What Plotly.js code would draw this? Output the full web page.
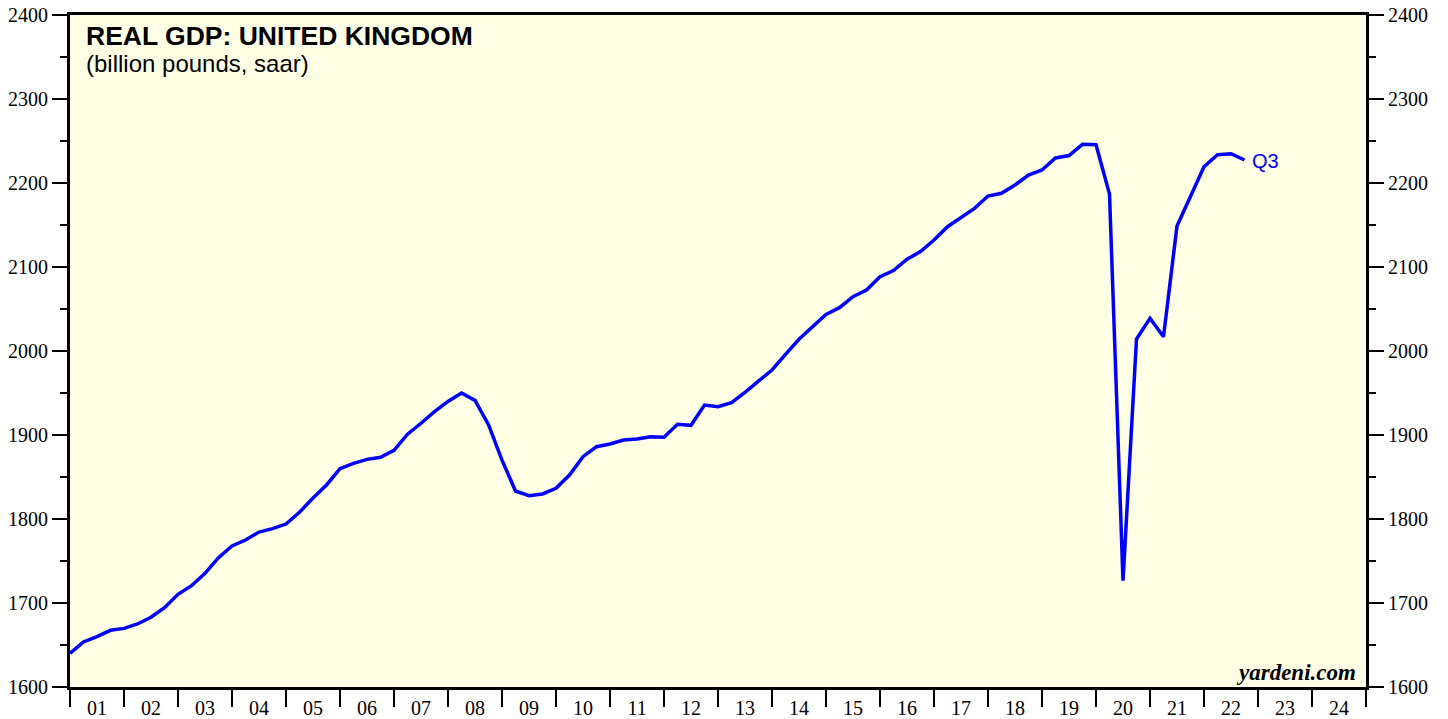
<!DOCTYPE html>
<html>
<head>
<meta charset="utf-8">
<script src="https://cdn.plot.ly/plotly-3.0.1.min.js"></script>
<style>html,body{margin:0;padding:0;background:#fff;}#chart{width:1448px;height:719px;}</style>
</head>
<body>
<div id="chart"></div>
<script>
// Quarter labels (plotted at quarter end)
const quarters = [
 "2000Q4",
 "2001Q1","2001Q2","2001Q3","2001Q4",
 "2002Q1","2002Q2","2002Q3","2002Q4",
 "2003Q1","2003Q2","2003Q3","2003Q4",
 "2004Q1","2004Q2","2004Q3","2004Q4",
 "2005Q1","2005Q2","2005Q3","2005Q4",
 "2006Q1","2006Q2","2006Q3","2006Q4",
 "2007Q1","2007Q2","2007Q3","2007Q4",
 "2008Q1","2008Q2","2008Q3","2008Q4",
 "2009Q1","2009Q2","2009Q3","2009Q4",
 "2010Q1","2010Q2","2010Q3","2010Q4",
 "2011Q1","2011Q2","2011Q3","2011Q4",
 "2012Q1","2012Q2","2012Q3","2012Q4",
 "2013Q1","2013Q2","2013Q3","2013Q4",
 "2014Q1","2014Q2","2014Q3","2014Q4",
 "2015Q1","2015Q2","2015Q3","2015Q4",
 "2016Q1","2016Q2","2016Q3","2016Q4",
 "2017Q1","2017Q2","2017Q3","2017Q4",
 "2018Q1","2018Q2","2018Q3","2018Q4",
 "2019Q1","2019Q2","2019Q3","2019Q4",
 "2020Q1","2020Q2","2020Q3","2020Q4",
 "2021Q1","2021Q2","2021Q3","2021Q4",
 "2022Q1","2022Q2","2022Q3"
];
// Real GDP, billion pounds, saar
const gdp = [
 1640,
 1653.6,1659.9,1667.5,1669.8,
 1675,1683,1694.4,1710.3,
 1720.6,1735.3,1754,1767.9,
 1775,1784.5,1788.5,1794,
 1808,1825,1840.5,1860,
 1866.3,1871,1873.4,1881.8,
 1901,1914,1927.8,1940,
 1950,1941.2,1912.3,1870,
 1833.3,1827.8,1829.8,1836.5,
 1852.4,1874.2,1886.1,1889.3,
 1894,1895.2,1898,1897.3,
 1912.7,1911.5,1935.7,1933.7,
 1938.4,1950.8,1964.3,1977.4,
 1996,2013.9,2028.9,2043.6,
 2051.6,2064.7,2072.6,2088.5,
 2095.7,2109.2,2118.3,2132.1,
 2148,2159.1,2169.8,2184.5,
 2187.7,2197.6,2209.5,2215.5,
 2229.8,2232.7,2246,2245.6,
 2187,1726.6,2014.3,2038.9,
 2017,2148.8,2183.7,2219.4,
 2233.7,2234.9,2227.4
];
const yearStarts = [2001,2002,2003,2004,2005,2006,2007,2008,2009,2010,2011,2012,2013,2014,2015,2016,2017,2018,2019,2020,2021,2022,2023,2024,2025];
const yearLabels = ["01","02","03","04","05","06","07","08","09","10","11","12","13","14","15","16","17","18","19","20","21","22","23","24"];
const yTicks = [1600,1700,1800,1900,2000,2100,2200,2300,2400];
const lastLabel = "Q3";
const titleText = "REAL GDP: UNITED KINGDOM";
const subtitleText = "(billion pounds, saar)";
const sourceText = "yardeni.com";

const xs = quarters.map(q => parseInt(q.slice(0,4)) + parseInt(q.slice(5))/4);
const labelPos = yearLabels.map((l,i) => yearStarts[i] + 0.5);
const xRange = [yearStarts[0], yearStarts[yearStarts.length-1]];
const yRange = [yTicks[0], yTicks[yTicks.length-1]];

const serif = "Liberation Serif, Times New Roman, serif";
const sans = "Liberation Sans, Arial, sans-serif";

const traces = [
 {x: xs, y: gdp, type: 'scatter', mode: 'lines', line: {color: '#0000FF', width: 3.5}, hoverinfo: 'skip', xaxis: 'x', yaxis: 'y'},
 {x: [], y: [], type: 'scatter', mode: 'lines', xaxis: 'x2', yaxis: 'y2', showlegend: false}
];

const yCommon = {
 range: yRange, tickvals: yTicks, ticks: 'outside', ticklen: 15, tickwidth: 2, tickcolor: '#000',
 showgrid: false, zeroline: false, showline: true, linecolor: '#000', linewidth: 3,
 tickfont: {family: serif, size: 20, color: '#000'},
 minor: {dtick: 50, ticks: 'outside', ticklen: 7, tickwidth: 2, tickcolor: '#000', showgrid: false},
 fixedrange: true
};

const layout = {
 width: 1448, height: 719,
 margin: {l: 70, r: 82, t: 15, b: 32},
 paper_bgcolor: '#ffffff',
 plot_bgcolor: '#FFFFE5',
 showlegend: false,
 title: {text: '<b>' + titleText + '</b>', x: 86/1448, xanchor: 'left', xref: 'container', y: 1 - 36/719, yanchor: 'middle', yref: 'container',
   font: {family: sans, size: 26.5, color: '#000'}},
 xaxis: {
  range: xRange, tickvals: yearStarts, ticktext: yearStarts.map(() => ''), ticks: 'outside', ticklen: 17, tickwidth: 2, tickcolor: '#000',
  showgrid: false, zeroline: false, showline: true, linecolor: '#000', linewidth: 3, mirror: true, fixedrange: true
 },
 xaxis2: {
  range: xRange, overlaying: 'x', anchor: 'y', side: 'bottom', tickvals: labelPos, ticktext: yearLabels,
  ticks: 'outside', ticklen: 3, tickcolor: 'rgba(0,0,0,0)', showgrid: false, zeroline: false, showline: false,
  tickfont: {family: serif, size: 20, color: '#000'}, fixedrange: true
 },
 yaxis: Object.assign({side: 'left'}, yCommon),
 yaxis2: Object.assign({side: 'right', overlaying: 'y', anchor: 'x'}, yCommon),
 annotations: [
  {text: subtitleText, xref: 'paper', yref: 'paper', x: 0, y: 1, xanchor: 'left', yanchor: 'middle', xshift: 14, yshift: -48,
   showarrow: false, font: {family: sans, size: 24, color: '#000'}},
  {text: '<b><i>' + sourceText + '</i></b>', xref: 'paper', yref: 'paper', x: 1, y: 0, xanchor: 'right', yanchor: 'bottom', xshift: -8, yshift: 0,
   showarrow: false, font: {family: serif, size: 23, color: '#000'}},
  {text: lastLabel, x: xs[xs.length-1], y: gdp[gdp.length-1], xref: 'x', yref: 'y', xanchor: 'left', yanchor: 'middle', xshift: 5, yshift: -1,
   showarrow: false, font: {family: sans, size: 20, color: '#0000FF'}}
 ]
};

Plotly.newPlot('chart', traces, layout, {staticPlot: true, displayModeBar: false});
</script>
</body>
</html>
